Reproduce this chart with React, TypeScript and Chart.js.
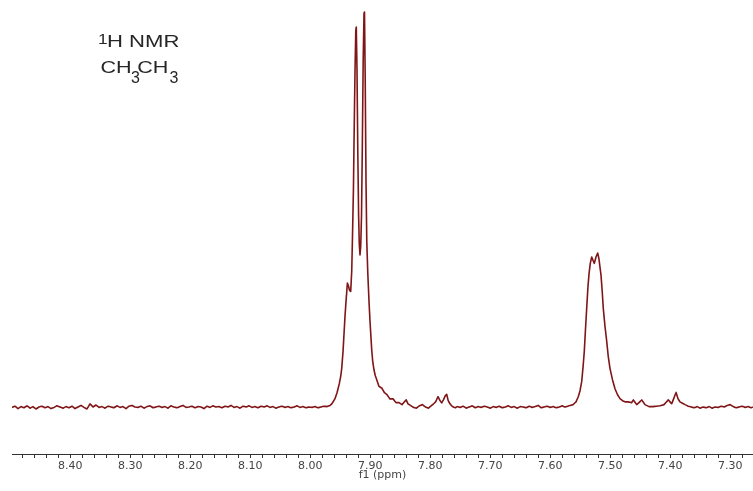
import React, { useEffect, useRef } from 'react';
import { Chart, registerables } from 'chart.js';

Chart.register(...registerables);

// ---- axis ----
const X_MIN = 7.262;
const X_MAX = 8.497;
const Y_MIN = -11.68;
const Y_MAX = 103.05;
const MAJOR_TICKS = [8.4, 8.3, 8.2, 8.1, 8.0, 7.9, 7.8, 7.7, 7.6, 7.5, 7.4, 7.3];
const MAJOR_LABELS = ['8.40', '8.30', '8.20', '8.10', '8.00', '7.90', '7.80', '7.70', '7.60', '7.50', '7.40', '7.30'];
const MINOR_TICKS = [
  8.48, 8.46, 8.44, 8.42, 8.38, 8.36, 8.34, 8.32, 8.28, 8.26, 8.24, 8.22,
  8.18, 8.16, 8.14, 8.12, 8.08, 8.06, 8.04, 8.02, 7.98, 7.96, 7.94, 7.92,
  7.88, 7.86, 7.84, 7.82, 7.78, 7.76, 7.74, 7.72, 7.68, 7.66, 7.64, 7.62,
  7.58, 7.56, 7.54, 7.52, 7.48, 7.46, 7.44, 7.42, 7.38, 7.36, 7.34, 7.32, 7.28,
];
const X_TITLE = 'f1 (ppm)';

// ---- spectrum (chemical shift in ppm, intensity in arbitrary units) ----
const LEFT_PPM = [
  8.497, 8.492, 8.487, 8.482, 8.477, 8.472, 8.467, 8.462, 8.457, 8.452,
  8.447, 8.442, 8.437, 8.432, 8.427, 8.422, 8.417, 8.412, 8.407, 8.402,
  8.397, 8.392, 8.387, 8.382, 8.377, 8.372, 8.367, 8.362, 8.357, 8.352,
  8.347, 8.342, 8.337, 8.332, 8.327, 8.322, 8.317, 8.312, 8.307, 8.302,
  8.297, 8.292, 8.287, 8.282, 8.277, 8.272, 8.267, 8.262, 8.257, 8.252,
  8.247, 8.242, 8.237, 8.232, 8.227, 8.222, 8.217, 8.212, 8.207, 8.202,
  8.197, 8.192, 8.187, 8.182, 8.177, 8.172, 8.167, 8.162, 8.157, 8.152,
  8.147, 8.142, 8.137, 8.132, 8.127, 8.122, 8.117, 8.112, 8.107, 8.102,
  8.097, 8.092, 8.087, 8.082, 8.077, 8.072, 8.067, 8.062, 8.057, 8.052,
  8.047, 8.042, 8.037, 8.032, 8.027, 8.022, 8.017, 8.012, 8.007, 8.002,
  7.997, 7.992, 7.987, 7.982, 7.977, 7.972,
];
const LEFT_INT = [
  0.1, 0.4, -0.2, 0.3, 0.0, 0.5, -0.1, 0.3, -0.3, 0.2,
  0.4, 0.0, 0.3, -0.2, 0.1, 0.5, 0.2, -0.1, 0.3, 0.0,
  0.4, -0.2, 0.2, 0.6, 0.1, -0.3, 1.0, 0.2, 0.7, 0.1,
  0.3, -0.1, 0.4, 0.2, 0.0, 0.5, 0.1, 0.3, -0.2, 0.4,
  0.6, 0.2, 0.1, 0.4, -0.1, 0.3, 0.5, 0.0, 0.2, 0.4,
  0.1, 0.3, -0.1, 0.5, 0.2, 0.0, 0.3, 0.6, 0.1, 0.2,
  0.4, 0.0, 0.3, 0.2, -0.2, 0.4, 0.1, 0.5, 0.2, 0.3,
  0.0, 0.4, 0.2, 0.6, 0.1, 0.3, -0.1, 0.4, 0.2, 0.5,
  0.1, 0.3, 0.0, 0.4, 0.2, 0.5, 0.1, 0.3, -0.1, 0.2,
  0.4, 0.1, 0.3, 0.0, 0.2, 0.5, 0.1, 0.3, 0.0, 0.2,
  0.1, 0.3, 0.0, 0.2, 0.4, 0.3,
];

const MAIN_PPM = [
  7.967, 7.964, 7.9615, 7.9587, 7.9553, 7.9515, 7.949, 7.9475, 7.9453, 7.9437,
  7.942, 7.9403, 7.938, 7.936, 7.9345, 7.9325, 7.9308, 7.9295, 7.928, 7.9267,
  7.9253, 7.924, 7.9232, 7.922, 7.9207, 7.9193, 7.9182, 7.917, 7.9158, 7.9145,
  7.9132, 7.9117, 7.9103, 7.9095, 7.9083, 7.907, 7.9057, 7.904, 7.902, 7.9003,
  7.899, 7.8975, 7.8958, 7.8937, 7.8915, 7.8887, 7.8853, 7.8808, 7.8762, 7.872,
  7.867, 7.862, 7.857, 7.852, 7.847,
];
const MAIN_INT = [
  0.6, 1.0, 1.6, 2.3, 3.8, 6.1, 8.1, 9.9, 14.2, 18.5,
  23.1, 26.9, 31.5, 30.7, 29.7, 29.4, 34.5, 43.4, 54.8, 70.1,
  85.3, 95.4, 96.2, 85.3, 65.0, 48.5, 41.4, 38.6, 40.9, 48.5,
  65.0, 87.8, 99.7, 100.0, 82.7, 57.4, 42.1, 34.0, 26.9, 21.8,
  18.5, 14.7, 11.7, 9.6, 8.1, 6.9, 5.4, 5.0, 3.8, 3.3,
  2.2, 2.3, 1.3, 1.3, 0.8,
];

const MID_PPM = [
  7.843, 7.840, 7.837, 7.833, 7.828, 7.823, 7.818, 7.813, 7.808, 7.803,
  7.799, 7.795, 7.791, 7.787, 7.784, 7.781, 7.778, 7.775, 7.7725, 7.770,
  7.767, 7.763, 7.758,
  7.755, 7.750, 7.745, 7.740, 7.735, 7.730, 7.725, 7.720, 7.715, 7.710,
  7.705, 7.700, 7.695, 7.690, 7.685, 7.680, 7.675, 7.670, 7.665, 7.660,
  7.655, 7.650, 7.645, 7.640, 7.635, 7.630, 7.625, 7.620, 7.615, 7.610,
  7.605, 7.600, 7.595, 7.590, 7.585, 7.580,
];
const MID_INT = [
  1.5, 2.0, 1.0, 0.6, 0.1, -0.1, 0.5, 0.8, 0.2, -0.1,
  0.4, 0.9, 1.5, 2.8, 1.9, 1.2, 2.0, 3.0, 3.4, 1.8,
  1.0, 0.3, 0.0,
  0.3, 0.1, 0.4, -0.1, 0.2, 0.5, 0.0, 0.3, 0.1, 0.4,
  0.2, -0.1, 0.3, 0.1, 0.4, 0.0, 0.2, 0.5, 0.1, 0.3,
  -0.1, 0.3, 0.2, 0.0, 0.4, 0.1, 0.3, 0.6, 0.0, 0.2,
  0.4, 0.1, 0.3, 0.0, 0.2, 0.5,
];

const PEAK_PPM = [
  7.5753, 7.5687, 7.562, 7.557, 7.5532, 7.5503, 7.5475, 7.5453, 7.5432, 7.5412,
  7.5392, 7.537, 7.5353, 7.5332, 7.5308, 7.5287, 7.5265, 7.5237, 7.5208, 7.5187,
  7.517, 7.5153, 7.5133, 7.5115, 7.5087, 7.5058, 7.5032, 7.5003, 7.4962, 7.492,
  7.4878, 7.4837, 7.4795, 7.4753,
];
const PEAK_INT = [
  0.2, 0.5, 0.8, 1.5, 2.8, 4.3, 6.6, 10.2, 14.2, 19.8,
  25.1, 30.7, 33.8, 36.5, 38.1, 37.3, 36.5, 38.1, 39.1, 37.6,
  35.5, 33.5, 29.4, 25.1, 20.6, 16.8, 12.9, 9.9, 7.1, 4.8,
  3.3, 2.3, 1.8, 1.5,
];

const RIGHT_PPM = [
  7.4703, 7.4642, 7.4615, 7.4558, 7.452, 7.4475, 7.442, 7.4353, 7.4287, 7.4228,
  7.417, 7.4103, 7.4032, 7.3975, 7.3937, 7.3903, 7.387, 7.3837, 7.3753,
  7.370, 7.365, 7.360, 7.355, 7.350, 7.345, 7.340, 7.335, 7.330, 7.325,
  7.320, 7.315, 7.310, 7.305, 7.300, 7.295, 7.290, 7.285, 7.280, 7.275,
  7.270, 7.265, 7.262,
];
const RIGHT_INT = [
  1.5, 1.3, 2.0, 0.8, 1.3, 2.0, 0.8, 0.3, 0.3, 0.4,
  0.5, 0.8, 2.0, 1.0, 2.5, 3.9, 2.3, 1.5, 0.8,
  0.4, 0.2, 0.0, 0.3, -0.1, 0.2, 0.0, 0.3, -0.1, 0.2,
  0.1, 0.4, 0.2, 0.6, 0.8, 0.3, 0.0, 0.2, 0.4, 0.1,
  0.3, 0.0, 0.2,
];

const SEGMENTS: [number[], number[]][] = [
  [LEFT_PPM, LEFT_INT],
  [MAIN_PPM, MAIN_INT],
  [MID_PPM, MID_INT],
  [PEAK_PPM, PEAK_INT],
  [RIGHT_PPM, RIGHT_INT],
];

const LINE_COLOR = '#7f1517';
const AXIS_COLOR = '#333333';
const TEXT_COLOR = '#444444';

const labelPlugin = {
  id: 'nmrLabel',
  afterDraw(chart: any) {
    const ctx = chart.ctx as CanvasRenderingContext2D;
    ctx.save();
    ctx.fillStyle = '#262626';
    ctx.textBaseline = 'alphabetic';
    ctx.textAlign = 'left';
    const put = (text: string, x: number, y: number, size: number, sx: number) => {
      ctx.font = `${size}px "Liberation Sans", Arial, sans-serif`;
      ctx.save();
      ctx.translate(x, y);
      ctx.scale(sx, 1);
      ctx.fillText(text, 0, 0);
      ctx.restore();
    };
    put('1', 98, 44, 15, 1.15);
    put('H NMR', 107, 47.3, 17, 1.3);
    put('CH', 100.5, 72.7, 17, 1.27);
    put('3', 131, 83.3, 16, 1.0);
    put('CH', 137.2, 72.7, 17, 1.27);
    put('3', 169.5, 83.3, 16, 1.0);
    ctx.restore();
  },
};

export default function App() {
  const canvasRef = useRef<HTMLCanvasElement | null>(null);

  useEffect(() => {
    if (!canvasRef.current) return;
    const points: { x: number; y: number }[] = [];
    SEGMENTS.forEach(([xs, ys]) => {
      xs.forEach((x, i) => points.push({ x, y: ys[i] }));
    });
    const tickValues = [...MAJOR_TICKS, ...MINOR_TICKS].sort((a, b) => b - a);

    const chart = new Chart(canvasRef.current, {
      type: 'line',
      data: {
        datasets: [
          {
            data: points,
            borderColor: LINE_COLOR,
            borderWidth: 1.6,
            pointRadius: 0,
            tension: 0.0001,
            fill: false,
            borderJoinStyle: 'round',
          },
        ],
      },
      options: {
        responsive: false,
        animation: false,
        devicePixelRatio: 1,
        layout: { padding: { left: 12, right: 0, top: 0, bottom: 0 } },
        plugins: {
          legend: { display: false },
          tooltip: { enabled: false },
        },
        scales: {
          x: {
            type: 'linear',
            min: X_MIN,
            max: X_MAX,
            reverse: true,
            afterBuildTicks: (scale: any) => {
              scale.ticks = tickValues.map((v) => ({ value: v }));
            },
            grid: {
              display: true,
              drawOnChartArea: false,
              drawTicks: true,
              tickLength: 4,
              tickColor: AXIS_COLOR,
              tickWidth: 1,
            },
            border: { display: true, color: AXIS_COLOR, width: 1 },
            ticks: {
              autoSkip: false,
              maxRotation: 0,
              minRotation: 0,
              padding: 1.4,
              color: TEXT_COLOR,
              font: { family: '"DejaVu Sans", Verdana, sans-serif', size: 11, lineHeight: 1.2 },
              callback: (value: any) => {
                const i = MAJOR_TICKS.findIndex((m) => Math.abs(m - Number(value)) < 1e-6);
                return i >= 0 ? MAJOR_LABELS[i] : '';
              },
            },
            title: {
              display: true,
              text: X_TITLE,
              color: TEXT_COLOR,
              font: { family: '"DejaVu Sans", Verdana, sans-serif', size: 11, lineHeight: 1.2 },
              padding: { top: -5.1, bottom: 8.9 },
            },
          },
          y: {
            display: false,
            min: Y_MIN,
            max: Y_MAX,
          },
        },
      },
      plugins: [labelPlugin],
    } as any);

    return () => chart.destroy();
  }, []);

  return (
    <div style={{ position: 'absolute', left: 0, top: 0, width: 753, height: 491, background: '#fff' }}>
      <canvas ref={canvasRef} width={753} height={491} style={{ width: 753, height: 491, display: 'block' }} />
    </div>
  );
}
